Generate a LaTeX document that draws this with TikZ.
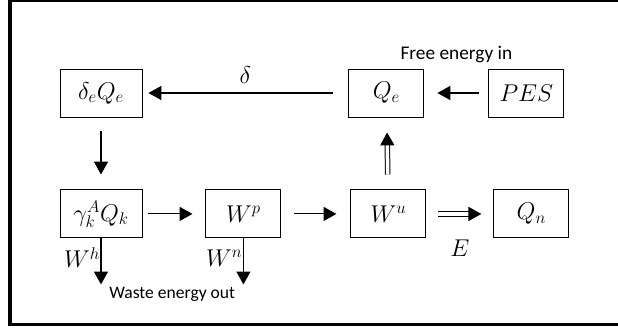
\documentclass[tikz,border=0pt]{standalone}
\usepackage{fontspec}
\setmainfont{Carlito}
\usetikzlibrary{positioning,arrows.meta}

\begin{document}
\begin{tikzpicture}[
  blk/.style={rectangle, draw, line width=0.8pt, minimum width=2.25cm,
              minimum height=1.44cm, inner sep=0pt,
              font=\fontsize{22}{26}\selectfont},
  wblk/.style={blk, minimum width=2.46cm},
  note/.style={font=\fontsize{16.5}{19}\selectfont, inner sep=1pt},
  mlab/.style={font=\fontsize{22}{26}\selectfont, inner sep=0.5pt},
  flow/.style={-{Triangle[length=11pt,width=12pt]}, line width=0.9pt},
  dflow/.style={flow, double, double distance=3pt, line width=0.85pt}
]
  \clip (0,0) rectangle (18.54,-9.9);
  % outer frame
  \draw[line width=3.4pt] (0.3,0) rectangle (19,-9.735);

  \node[wblk] (dq) at (3.03,-2.79) {$\delta_e Q_e$};
  \node[blk, right=6.18cm of dq] (qe) {$Q_e$};
  \node[blk, right=1.92cm of qe] (pes) {$PES$};
  \node[wblk, below=2.16cm of dq] (gq) {$\gamma_k^A Q_k$};
  \node[blk, right=1.89cm of gq] (wp) {$W^p$};
  \node[blk, right=2.07cm of wp] (wu) {$W^u$};
  \node[blk, right=2.01cm of wu] (qn) {$Q_n$};

  \coordinate[below=1.38cm of gq.south] (outh);
  \coordinate[below=1.38cm of wp.south] (outn);

  \draw[flow, shorten <=0.45cm, shorten >=0.18cm] (qe) -- (dq)
    node[midway, above=0.25cm, mlab] (dlab) {$\delta$};
  \draw[flow, shorten <=0.42cm, shorten >=0.45cm] (dq) -- (gq);
  \draw[flow, shorten <=0.18cm, shorten >=0.39cm] (gq) -- (wp);
  \draw[flow, shorten <=0.39cm, shorten >=0.42cm] (wp) -- (wu);
  \draw[dflow, shorten <=0.36cm, shorten >=0.36cm] (wu) -- (qn)
    node[midway, below=0.75cm, mlab] (elab) {$E$};
  \draw[dflow, shorten <=0.45cm, shorten >=0.45cm] (wu) -- (qe);
  \draw[flow, shorten <=0.27cm, shorten >=0.39cm] (pes) -- (qe)
    node[midway, above=0.85cm, note] (freein) {Free energy in};

  % waste energy
  \draw[flow] (gq.south) -- (outh) node[pos=0.42, left=0pt, mlab] (whlab) {$W^h$};
  \draw[flow] (wp.south) -- (outn) node[pos=0.42, left=0pt, mlab] (wnlab) {$W^n$};
  \path (outh) -- (outn) node[midway, below=1pt, note, font=\fontsize{15}{18}\selectfont] (waste) {Waste energy out};
\end{tikzpicture}
\end{document}
